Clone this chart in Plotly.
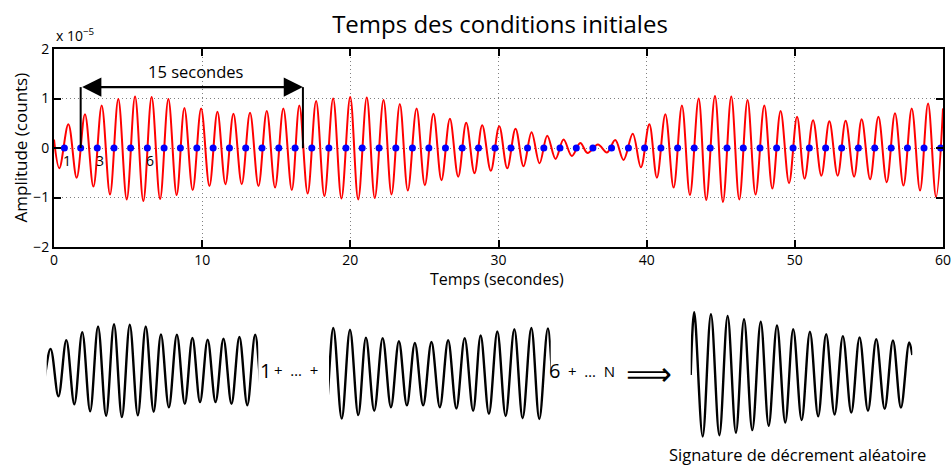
import plotly.graph_objects as go

# ---------------- data ----------------
# red signal: start point, alternating extrema, end point (time in s, amplitude in 1e-5 counts)
red_t = [0.00,
         0.36, 0.97, 1.53, 2.09, 2.66, 3.22, 3.78, 4.34, 4.91, 5.47,
         6.03, 6.59, 7.16, 7.72, 8.28, 8.80, 9.36, 9.93, 10.49, 11.03,
         11.57, 12.11, 12.67, 13.23, 13.80, 14.36, 14.92, 15.48, 16.05, 16.56,
         17.12, 17.69,
         18.25, 18.84, 19.40, 19.99, 20.53, 21.11, 21.65, 22.24, 22.78, 23.34,
         23.88, 24.47, 25.03, 25.61, 26.15, 26.72, 27.28, 27.82, 28.38, 28.90,
         29.48, 30.05, 30.59, 31.15, 31.69, 32.23, 32.77, 33.29, 33.85, 34.39,
         34.95, 35.52, 36.01, 36.71, 37.32, 37.88, 38.44, 39.06,
         39.61, 40.18, 40.69, 41.26, 41.82, 42.38, 42.92, 43.51, 44.02, 44.61,
         45.15, 45.71, 46.25, 46.81, 47.35, 47.94, 48.48, 49.04, 49.61, 50.15,
         50.66, 51.23, 51.79, 52.33, 52.89, 53.43, 54.00, 54.51, 55.08, 55.64,
         56.20, 56.76, 57.33, 57.89, 58.45, 58.99, 59.53,
         60.00]
red_v = [0.17,
         -0.41, 0.48, -0.60, 0.68, -0.78, 0.86, -0.94, 0.99, -1.04, 1.04,
         -1.07, 1.03, -1.03, 0.99, -0.95, 0.81, -0.85, 0.80, -0.77, 0.73,
         -0.73, 0.69, -0.73, 0.71, -0.77, 0.75, -0.80, 0.80, -0.85, 0.86,
         -0.92, 0.95,
         -0.97, 1.00, -1.02, 1.03, -1.04, 1.02, -1.01, 0.97, -0.94, 0.89,
         -0.86, 0.80, -0.75, 0.69, -0.65, 0.59, -0.58, 0.51, -0.51, 0.46,
         -0.46, 0.44, -0.41, 0.39, -0.37, 0.32, -0.31, 0.25, -0.22, 0.17,
         -0.16, 0.10, -0.10, 0.07, -0.09, 0.16, -0.24, 0.29,
         -0.39, 0.48, -0.60, 0.68, -0.80, 0.86, -0.95, 1.00, -1.05, 1.05,
         -1.09, 1.04, -1.04, 0.97, -0.94, 0.86, -0.82, 0.75, -0.71, 0.63,
         -0.62, 0.56, -0.56, 0.54, -0.56, 0.55, -0.58, 0.58, -0.63, 0.63,
         -0.69, 0.70, -0.76, 0.80, -0.86, 0.90, -0.99,
         0.80]
assert len(red_t) == len(red_v)

# blue dots: upward zero crossings (s)
dot_t = [0.70, 1.80, 2.92, 4.05, 5.17, 6.30, 7.43, 8.53, 9.64, 10.74,
         11.84, 12.94, 14.04, 15.17, 16.27, 17.40, 18.55, 19.70, 20.80, 21.94,
         23.07, 24.19, 25.30, 26.42, 27.55, 28.65, 29.76, 30.84, 31.96, 33.06,
         34.15, 35.25, 36.37, 37.63, 38.77, 39.86, 40.96, 42.09, 43.21, 44.29,
         45.42, 46.52, 47.65, 48.77, 49.88, 50.98, 52.08, 53.16, 54.29, 55.39,
         56.50, 57.60, 58.72, 59.84]
dot_v = [0.0] * len(dot_t)
dot_labels = {0: "1", 2: "3", 5: "6"}   # index of dot -> label

# random decrement signature (relative amplitude, time in s)
sig_t = [0.00,
         0.24, 0.81, 1.37, 1.94, 2.50, 3.06, 3.61, 4.17, 4.74, 5.28,
         5.84, 6.40, 6.94, 7.51, 8.07, 8.63, 9.17, 9.74, 10.30, 10.87,
         11.43, 12.00, 12.56, 13.13, 13.69, 14.23, 14.79,
         15.00]
sig_v = [0.00,
         1.00, -0.98, 0.97, -0.96, 0.94, -0.92, 0.89, -0.88, 0.85, -0.81,
         0.79, -0.76, 0.73, -0.72, 0.69, -0.66, 0.65, -0.63, 0.62, -0.60,
         0.60, -0.57, 0.57, -0.54, 0.55, -0.52, 0.52,
         0.32]
assert len(sig_t) == len(sig_v)

window_s = 15.0          # length of one segment (s)
arrow_level = 1.23       # height of the "15 secondes" arrow
x_ticks = [0, 10, 20, 30, 40, 50, 60]
y_ticks = [-2, -1, 0, 1, 2]
y_ticktext = ["\u22122", "\u22121", "0", "1", "2"]

# ---------------- layout helpers ----------------
W, H = 951, 467
ML, MR, MT, MB = 8, 8, 49, 8
PW, PH = W - ML - MR, H - MT - MB


def px(x):
    return (x - ML) / PW


def py(y):
    return (H - MB - y) / PH


FONT = "Open Sans, Noto Sans, sans-serif"
NB = "\u00a0"
red_line = dict(color="#ff0000", width=2, shape="spline", smoothing=1)
blk_line = dict(color="#000000", width=2.4, shape="spline", smoothing=1)

fig = go.Figure()
fig.add_trace(go.Scatter(x=red_t, y=red_v, mode="lines", line=red_line,
                         xaxis="x", yaxis="y", hoverinfo="skip"))
fig.add_trace(go.Scatter(x=dot_t, y=dot_v, mode="markers",
                         marker=dict(color="#0000ff", size=7),
                         cliponaxis=False, xaxis="x", yaxis="y"))
# bottom illustrations: segments 1 and 6 of the same record, and the signature
fig.add_trace(go.Scatter(x=red_t, y=red_v, mode="lines", line=blk_line,
                         xaxis="x2", yaxis="y2", hoverinfo="skip"))
fig.add_trace(go.Scatter(x=red_t, y=red_v, mode="lines", line=blk_line,
                         xaxis="x3", yaxis="y3", hoverinfo="skip"))
fig.add_trace(go.Scatter(x=sig_t, y=sig_v, mode="lines", line=blk_line,
                         xaxis="x4", yaxis="y4", hoverinfo="skip"))

axis_common = dict(showline=True, linecolor="black", linewidth=2, mirror="allticks",
                   ticks="inside", ticklen=7, tickwidth=1.5, tickcolor="black",
                   showgrid=True, gridcolor="#808080", gridwidth=1, griddash="1px,3px",
                   zeroline=False, tickfont=dict(family=FONT, size=14, color="black"),
                   fixedrange=True, automargin=False, ticklabeloverflow="allow")
hidden = dict(visible=False, fixedrange=True, automargin=False)

fig.update_layout(
    width=W, height=H,
    margin=dict(l=ML, r=MR, t=MT, b=MB, autoexpand=False),
    paper_bgcolor="white", plot_bgcolor="white",
    showlegend=False,
    font=dict(family=FONT, color="black"),
    title=dict(text="Temps des conditions initiales", x=500 / W, xref="container",
               xanchor="center", y=1 - 25 / H, yref="container", yanchor="middle",
               font=dict(family=FONT, size=24, color="black")),
    xaxis=dict(domain=[px(54), 1.0], range=[x_ticks[0], x_ticks[-1]], tickvals=x_ticks,
               anchor="y", ticklabelstandoff=-1, **axis_common),
    yaxis=dict(domain=[py(247), 1.0], range=[y_ticks[0], y_ticks[-1]], tickvals=y_ticks,
               ticktext=y_ticktext, anchor="x", **axis_common),
    xaxis2=dict(domain=[px(46.7), px(258.3)], range=[dot_t[0], dot_t[0] + window_s],
                anchor="y2", **hidden),
    yaxis2=dict(domain=[py(370 + 52.8), py(370 - 52.8)], range=[-1.2, 1.2],
                anchor="x2", **hidden),
    xaxis3=dict(domain=[px(329), px(550.7)], range=[dot_t[5], dot_t[5] + window_s],
                anchor="y3", **hidden),
    yaxis3=dict(domain=[py(373.3 + 52.8), py(373.3 - 52.8)], range=[-1.2, 1.2],
                anchor="x3", **hidden),
    xaxis4=dict(domain=[px(690.7), px(912.3)], range=[sig_t[0], sig_t[-1]],
                anchor="y4", **hidden),
    yaxis4=dict(domain=[py(375 + 72.1), py(375 - 72.1)], range=[-1.15, 1.15],
                anchor="x4", **hidden),
)

ann = []
# axis titles and multiplier
ann.append(dict(text="Amplitude (counts)", x=px(20), y=py(147.5), xref="paper", yref="paper",
                textangle=-90, showarrow=False, xanchor="center", yanchor="middle",
                font=dict(size=17)))
ann.append(dict(text="Temps (secondes)", x=px(497), y=py(278.5), xref="paper", yref="paper",
                showarrow=False, xanchor="center", yanchor="middle", font=dict(size=16)))
ann.append(dict(text="x 10<sup>\u22125</sup>", x=px(54), y=py(47), xref="paper", yref="paper",
                showarrow=False, xanchor="left", yanchor="bottom", font=dict(size=14)))
# 15 s window arrow
ann.append(dict(text="", x=dot_t[1] + window_s, y=arrow_level, ax=dot_t[1], ay=arrow_level,
                xref="x", yref="y", axref="x", ayref="y", showarrow=True,
                arrowhead=2, arrowside="end+start", arrowsize=1.6, arrowwidth=2.4,
                arrowcolor="black", standoff=0, startstandoff=0))
ann.append(dict(text="15 secondes", x=dot_t[1] + window_s / 2 + 0.3, y=arrow_level,
                xref="x", yref="y", showarrow=False, xanchor="center", yanchor="bottom",
                yshift=2, font=dict(size=16.5)))
# segment labels near dots
for i, lab in dot_labels.items():
    ann.append(dict(text=lab, x=dot_t[i], y=0, xref="x", yref="y", showarrow=False,
                    xanchor="center", yanchor="middle", xshift=3, yshift=-12,
                    font=dict(size=14)))
# bottom text
ann.append(dict(text="1", x=px(265), y=py(370), xref="paper", yref="paper", showarrow=False,
                xanchor="center", yanchor="middle", font=dict(size=20)))
ann.append(dict(text="+" + NB * 2 + "\u2026" + NB * 2 + "+", x=px(295.5), y=py(370),
                xref="paper", yref="paper", showarrow=False, xanchor="center",
                yanchor="middle", font=dict(size=15)))
ann.append(dict(text="6", x=px(554.7), y=py(370.5), xref="paper", yref="paper",
                showarrow=False, xanchor="center", yanchor="middle", font=dict(size=20)))
ann.append(dict(text="+" + NB * 2 + "\u2026" + NB * 2 + "N", x=px(591), y=py(371),
                xref="paper", yref="paper", showarrow=False, xanchor="center",
                yanchor="middle", font=dict(size=15)))
ann.append(dict(text="\u27f9", x=px(649.3), y=py(373.5), xref="paper", yref="paper",
                showarrow=False, xanchor="center", yanchor="middle",
                font=dict(size=32, family="DejaVu Sans")))
ann.append(dict(text="Signature de d\u00e9crement al\u00e9atoire", x=px(797.5), y=py(454),
                xref="paper", yref="paper", showarrow=False, xanchor="center",
                yanchor="middle", font=dict(size=16.5)))

shapes = []
for xv in (dot_t[1], dot_t[1] + window_s):
    shapes.append(dict(type="line", xref="x", yref="y", x0=xv, x1=xv, y0=0, y1=arrow_level,
                       line=dict(color="black", width=2)))

fig.update_layout(annotations=ann, shapes=shapes)
fig.write_html("out.html", config={"displayModeBar": False},
               post_script="document.body.style.margin='0';document.body.style.overflow='hidden';")
